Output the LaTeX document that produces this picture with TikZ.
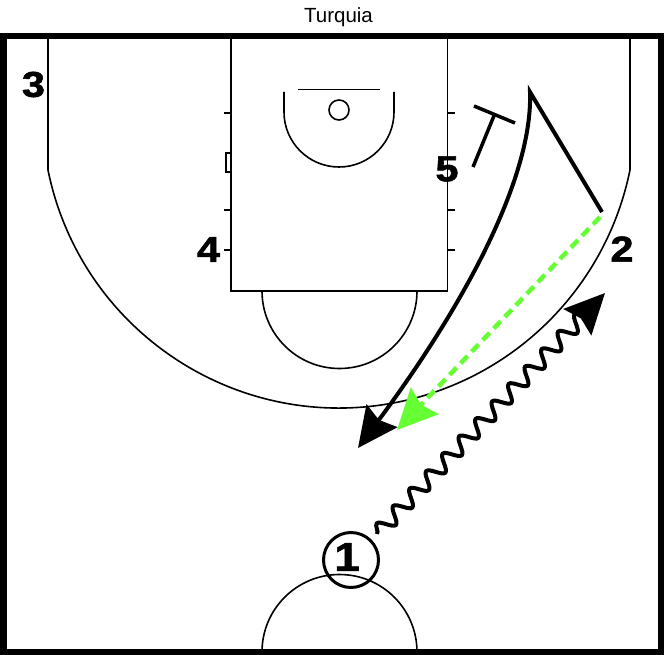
\documentclass[tikz,border=0pt]{standalone}
\usepackage{fontspec}
\setmainfont{Liberation Sans}
\newfontfamily\numfont[BoldFeatures={FakeBold=1.5}]{Liberation Sans}
\usetikzlibrary{arrows.meta,decorations.pathmorphing}
\definecolor{passgreen}{RGB}{102,255,51}
\begin{document}
\begin{tikzpicture}[x=1pt,y=-1pt,
  court/.style={line width=1.6pt},
  frame/.style={line width=6.5pt},
  lbl/.style={inner sep=0pt,xscale=1.15,font=\fontsize{36}{36}\numfont\bfseries},
  title/.style={inner sep=0pt,font=\fontsize{20.5}{20.5}\selectfont},
  bigtip/.style={-{Stealth[length=40pt,width=38pt,inset=5pt]}},
  move/.style={line width=4pt,line join=miter},
  screenline/.style={line width=3.5pt},
  pass/.style={line width=4.5pt,passgreen,dash pattern=on 10pt off 6pt},
  dribble/.style={line width=4pt,decorate,decoration={snake,segment length=24pt,amplitude=7.5pt,post length=22pt}}]
\useasboundingbox (0,0) rectangle (664,655);
% title
\node[title,anchor=base] (ttl) at (338.5,23) {Turquia};
% half-court circle at bottom
\draw[court] (262,652) arc[start angle=180,end angle=0,radius=77.5pt];
% lane
\draw[court] (231,36.5) rectangle (447.5,291);
% free throw half circle
\draw[court] (262,291) arc[start angle=180,end angle=360,radius=77.5pt];
% three point line
\draw[court] (48,36.5) -- (48,170) arc[start angle=191.44,end angle=348.56,radius=296.9pt] -- (630,36.5);
% backboard, rim, restricted area
\draw[court] (298,89.5) -- (380,89.5);
\draw[court] (339,110) circle[radius=10pt];
\draw[court] (284,92) -- (284,112) arc[start angle=180,end angle=360,radius=55pt] -- (394,92);
% lane marks
\foreach \yy in {113,210,250} {
  \draw[court] (224,\yy) -- (231,\yy);
  \draw[court] (447.5,\yy) -- (454.5,\yy);
}
\draw[court] (226,153) rectangle (231,172);
% frame
\draw[frame] (3.5,36) -- (661,36) -- (661,652.5) -- (3.5,652.5) -- cycle;
% players
\node[lbl] (p3) at (33.5,84.5) {3};
\node[lbl] (p4) at (208.5,249.5) {4};
\node[lbl] (p5) at (447,169) {5};
\node[lbl] (p2) at (622,249) {2};
\node[lbl,font=\fontsize{40}{40}\numfont\bfseries] (p1) at (347,557) {1};
\node[draw,circle,line width=3pt,minimum size=55pt,inner sep=0pt] (c1) at (351,560) {};
% screen by 5
\coordinate (s5a) at (473,167);
\coordinate (s5b) at (494.5,114.5);
\coordinate (s5l) at (474,106);
\coordinate (s5r) at (515,123);
\draw[screenline] (s5a) -- (s5b);
\draw[screenline] (s5l) -- (s5r);
% cut by 2
\coordinate (c2a) at (602,212);
\coordinate (c2b) at (530,92);
\coordinate (c2e) at (358,448);
\draw[move,bigtip] (c2a) -- (c2b) .. controls (533,175) and (468,300) .. (c2e);
% pass
\coordinate (pa) at (600,217);
\coordinate (pe) at (397,430);
\draw[pass,bigtip] (pa) -- (pe);
% dribble
\coordinate (da) at (377,534);
\coordinate (de) at (605,293);
\draw[dribble,bigtip] (da) -- (de);
\end{tikzpicture}
\end{document}
